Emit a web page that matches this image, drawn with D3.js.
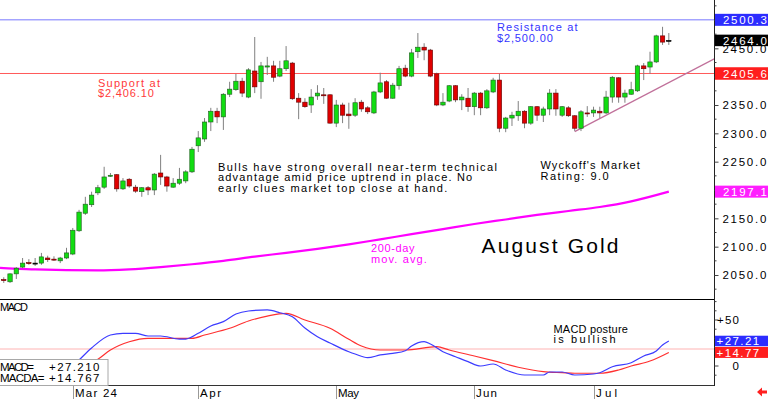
<!DOCTYPE html>
<html><head><meta charset="utf-8">
<script src="https://cdn.jsdelivr.net/npm/d3@7"></script>
<style>
body{margin:0;background:#fff}
svg{display:block}
text{font-family:"Liberation Sans",Arial,sans-serif}
</style>
</head><body>
<svg id="c" width="768" height="399"></svg>
<script>
// ---------- DATA ----------
const opens = [2042,2038,2052,2064,2072,2071,2071,2080,2078,2075,2080,2087,2128,2159,2174,2195,2205,2225,2227,2202,
 2219,2205,2197,2204,2200,2230,2223,2205,2212,2216,2232,2278,2290,2320,2339,2329,2369,2377,2392,2364,
 2410,2391,2417,2419,2401,2414,2424,2362,2355,2350,2366,2368,2368,2318,2350,2334,2332,2355,2345,2336,
 2373,2391,2362,2384,2415,2401,2444,2452,2447,2405,2350,2357,2384,2359,2362,2347,2371,2345,2373,2394,
 2309,2327,2331,2339,2318,2347,2332,2343,2371,2332,2345,2331,2309,2336,2336,2339,2336,2364,2398,2364,
 2369,2375,2419,2417,2426,2472,2464];
const highs = [2046,2053,2064,2080,2078,2080,2089,2084,2083,2082,2098,2133,2165,2188,2197,2209,2241,2230,2228,2221,
 2221,2209,2205,2207,2230,2262,2225,2221,2239,2235,2276,2304,2327,2345,2345,2371,2391,2405,2398,2415,
 2470,2426,2435,2428,2428,2454,2426,2371,2362,2378,2385,2380,2369,2359,2354,2354,2362,2359,2348,2375,
 2407,2394,2389,2419,2421,2449,2477,2459,2449,2407,2371,2385,2385,2369,2380,2373,2373,2378,2398,2405,
 2329,2338,2357,2341,2348,2348,2347,2378,2378,2348,2348,2332,2341,2348,2347,2347,2375,2401,2399,2377,
 2391,2421,2424,2444,2474,2488,2477];
const lows = [2036,2036,2043,2062,2068,2066,2068,2073,2075,2071,2078,2085,2126,2156,2170,2191,2202,2223,2197,2200,
 2204,2195,2188,2191,2191,2209,2197,2204,2209,2212,2230,2267,2285,2304,2318,2306,2364,2375,2364,2362,
 2371,2361,2403,2391,2399,2410,2359,2325,2345,2336,2359,2352,2317,2311,2318,2308,2329,2338,2334,2334,
 2371,2361,2361,2377,2399,2399,2433,2429,2399,2348,2348,2355,2355,2341,2338,2332,2332,2343,2371,2302,
 2302,2313,2322,2309,2315,2322,2320,2332,2331,2329,2329,2304,2304,2329,2329,2327,2334,2354,2354,2354,
 2368,2373,2394,2405,2424,2456,2456];
const closes = [2040,2052,2062,2071,2070,2071,2082,2077,2077,2080,2089,2129,2161,2175,2191,2204,2223,2226,2202,2216,
 2207,2198,2204,2200,2228,2223,2207,2212,2219,2232,2272,2292,2320,2339,2329,2369,2378,2392,2371,2412,
 2382,2419,2419,2399,2414,2428,2361,2355,2347,2364,2371,2367,2318,2350,2332,2331,2354,2343,2338,2373,
 2389,2362,2385,2414,2401,2442,2452,2447,2401,2350,2355,2384,2359,2364,2347,2371,2345,2375,2394,2309,
 2327,2332,2339,2318,2347,2332,2343,2371,2343,2347,2331,2309,2338,2335,2341,2336,2364,2399,2364,2371,
 2377,2419,2414,2426,2472,2461,2464];

// 200-day moving average (candle index, value)
const maIdx  = [-0.6,0,5,10,15,20,25,30,35,40,45,50,55,60,65,70,75,80,85,90,95,100,106];
const maVals = [2062.5,2062,2060,2058.5,2058,2060,2064,2069,2075,2082.5,2089,2096,2104,2113,2122,2131,2140,2148,2156,2163,2170,2180,2197.1];

// MACD (blue) and MACDA (red)
const macdIdx  = [11,12,14,17,19,21,23,25,28,29,31,33,35,37,39,42,44,46,48,50,52,55,56,58,60,62,64,65,67,68,70,72,74,76,78,80,83,86,87,89,91,94,95,97,100,102,104,105,106];
const macdVals = [0,6.5,19.6,33.7,35.5,35.5,32.6,32.6,29.3,29.3,35.5,43.5,48.2,56.5,59.8,60.9,57.9,53.6,41.3,31.8,25,15.5,13,9,12,13.8,16.6,21.7,26.4,23.9,15.5,10.1,4.7,0,2.2,-4.3,-9.8,-9.8,-6.5,-6.5,-9.8,-8.7,-7.3,-0.8,3.6,10.9,16.3,22.8,27.21];
const macdaIdx  = [13,15,17,20,23,27,30,32,36,39,42,45,48,52,55,57,60,64,69,71,75,78,82,86,89,91,95,98,100,103,106];
const macdaVals = [0,7.3,17.4,26.4,30.1,30.1,30.1,33.7,41,48.9,54.3,57.3,50,41,29,21.7,17.4,17.4,21,17.4,10.9,5.8,-1.4,-6.2,-7.3,-7.9,-7.9,-4.3,0,5.4,14.77];
const macdNow = 27.210, macdaNow = 14.767;
const macdRefLevel = 18.5;

// levels
const resistance = 2500.3, support = 2405.6, lastPrice = 2464.0, maLast = 2197.1;
const trendIdx = [91, 113.4];
const trendVals = [2303, 2432.4];

// ticks / labels
const priceTicks = [2050,2100,2150,2200,2250,2300,2350,2400,2450,2500];
const macdTicks = [0,50];
const monthLabels = ["Mar 24","Apr","May","Jun","Jul"];
const monthIdx = [11,31,53,75,94];

// ---------- CHART ----------
const svg = d3.select("#c");
const W = 768, plotR = 714, mainB = 299, lowT = 300, lowB = 385;

const x = d3.scaleLinear().domain([-0.6, 113.2]).range([0, plotR]);
const y = d3.scaleLinear().domain([2050, 2500]).range([275, 20]);
const ym = d3.scaleLinear().domain([0, 50]).range([366, 320]);

function mono(sel, adv){
  sel.each(function(){
    const t = d3.select(this);
    t.attr("textLength", t.text().length * adv).attr("lengthAdjust", "spacing");
  });
}

const defs = svg.append("defs");
defs.append("clipPath").attr("id","cm").append("rect").attr("x",0).attr("y",0).attr("width",plotR).attr("height",mainB);
defs.append("clipPath").attr("id","cl").append("rect").attr("x",0).attr("y",lowT).attr("width",plotR).attr("height",lowB-lowT);

svg.append("rect").attr("width",W).attr("height",399).attr("fill","#fff");

const main = svg.append("g").attr("clip-path","url(#cm)");

// level lines
main.append("line").attr("x1",0).attr("x2",plotR).attr("y1",y(resistance)).attr("y2",y(resistance))
  .attr("stroke","#7878ff").attr("stroke-width",1);
main.append("line").attr("x1",0).attr("x2",plotR).attr("y1",y(support)).attr("y2",y(support))
  .attr("stroke","#ff5a5a").attr("stroke-width",1);

// trendline
main.append("path").datum(trendIdx.map((d,i)=>[d,trendVals[i]]))
  .attr("d", d3.line().x(d=>x(d[0])).y(d=>y(d[1])))
  .attr("stroke","#c0709a").attr("stroke-width",1.2).attr("fill","none");

// moving average
main.append("path").datum(maIdx.map((d,i)=>[d,maVals[i]]))
  .attr("d", d3.line().curve(d3.curveMonotoneX).x(d=>x(d[0])).y(d=>y(d[1])))
  .attr("stroke","#ff00ff").attr("stroke-width",2.2).attr("fill","none");

// candles
const bw = 4.4;
const cg = main.append("g");
opens.forEach((o,i)=>{
  const c = closes[i], h = highs[i], l = lows[i];
  const up = c > o, down = c < o;
  const fill = up ? "#11dd11" : down ? "#e00000" : "#000";
  const stroke = up ? "#205a20" : down ? "#600000" : "#000";
  cg.append("line").attr("x1",x(i)).attr("x2",x(i)).attr("y1",y(h)).attr("y2",y(l))
    .attr("stroke","#808080").attr("stroke-width",1);
  const top = y(Math.max(o,c)), bot = y(Math.min(o,c));
  cg.append("rect").attr("x",x(i)-bw/2).attr("y",top).attr("width",bw).attr("height",Math.max(1,bot-top))
    .attr("fill",fill).attr("stroke",stroke).attr("stroke-width",0.6);
});

// annotations
function textLines(lines, x0, y0, dy, color, size, adv){
  lines.forEach((s,k)=>{
    svg.append("text").attr("x",x0).attr("y",y0+k*dy).attr("fill",color)
      .attr("font-size",size).text(s).call(mono, adv);
  });
}
textLines(["Resistance at","$2,500.00"], 497, 31, 10.5, "#3434ff", 11, 6.2);
textLines(["Support at","$2,406.10"], 98, 86.5, 10.5, "#ff3a3a", 11, 6.2);
textLines(["Bulls have strong overall near-term technical","advantage amid price uptrend in place. No","early clues market top close at hand."], 218, 170.5, 10.8, "#000", 11, 6.2);
textLines(["Wyckoff's Market","Rating: 9.0"], 540.5, 169, 10.6, "#000", 11, 6.2);
textLines(["200-day","mov. avg."], 371, 252, 10.5, "#ff00ff", 11, 6.2);
textLines(["August Gold"], 481.5, 252.5, 0, "#000", 21, 12.45);

// main/lower separators
svg.append("line").attr("x1",0).attr("x2",plotR).attr("y1",299.5).attr("y2",299.5).attr("stroke","#000").attr("stroke-width",1.2);
svg.append("line").attr("x1",0).attr("x2",plotR).attr("y1",385.5).attr("y2",385.5).attr("stroke","#333").attr("stroke-width",1);
svg.append("line").attr("x1",plotR+0.5).attr("x2",plotR+0.5).attr("y1",0).attr("y2",386).attr("stroke","#222").attr("stroke-width",1);

// value boxes on the price axis (tick labels hidden under them are dropped)
const boxes = [
  {v:resistance, h:12,   bg:"#2c2cff"},
  {v:lastPrice,  h:11.5, bg:"#000"},
  {v:support,    h:12.5, bg:"#ff1e1e"},
  {v:maLast,     h:12,   bg:"#ff1eff"}
];
const covered = v => boxes.some(b => Math.abs(y(v)-y(b.v)) < 7);

// price axis
const minorP = d3.range(2025, 2526, 25).filter(v=>priceTicks.indexOf(v)<0);
svg.append("g").selectAll("line").data(minorP).join("line")
  .attr("x1",plotR+0.5).attr("x2",plotR+2.5).attr("y1",d=>y(d)).attr("y2",d=>y(d)).attr("stroke","#444");
const pa = svg.append("g").attr("transform",`translate(${plotR+0.5},0)`)
  .call(d3.axisRight(y).tickValues(priceTicks).tickFormat(d=>covered(d)?"":d3.format(".1f")(d)).tickSize(4).tickPadding(4));
pa.select(".domain").remove();
pa.selectAll("line").attr("stroke","#444");
pa.selectAll("text").attr("font-size",11.5).attr("fill","#000").attr("font-family","Liberation Sans, Arial, sans-serif")
  .filter(function(){return this.textContent.length>0;}).call(mono,7.3);

boxes.forEach(b=>{
  const yc = y(b.v);
  svg.append("rect").attr("x",plotR+1).attr("y",yc-b.h/2).attr("width",W-plotR).attr("height",b.h).attr("fill",b.bg);
  svg.append("text").attr("x",723).attr("y",yc).attr("dy","0.36em").attr("fill","#fff").attr("font-size",11.5)
    .text(d3.format(".1f")(b.v)).call(mono,7.3);
});

// ---------- MACD panel ----------
const low = svg.append("g").attr("clip-path","url(#cl)");
low.append("line").attr("x1",0).attr("x2",plotR).attr("y1",ym(macdRefLevel)).attr("y2",ym(macdRefLevel))
  .attr("stroke","#ffcccc").attr("stroke-width",1.5);
low.append("path").datum(macdaIdx.map((d,i)=>[d,macdaVals[i]]))
  .attr("d", d3.line().curve(d3.curveMonotoneX).x(d=>x(d[0])).y(d=>ym(d[1])))
  .attr("stroke","#ff3030").attr("stroke-width",1.2).attr("fill","none");
low.append("path").datum(macdIdx.map((d,i)=>[d,macdVals[i]]))
  .attr("d", d3.line().curve(d3.curveMonotoneX).x(d=>x(d[0])).y(d=>ym(d[1])))
  .attr("stroke","#3c3cff").attr("stroke-width",1.2).attr("fill","none");

svg.append("text").attr("x",0).attr("y",310.5).attr("font-size",11).attr("fill","#000").text("MACD").call(mono,7);
textLines(["MACD posture","is bullish"], 553.5, 332.5, 10.5, "#000", 11, 6.2);

// macd value box
svg.append("rect").attr("x",-1).attr("y",359.5).attr("width",109).attr("height",26).attr("fill","#fff").attr("stroke","#a8a8a8");
const fmt = d3.format("+.3f");
[["MACD=",fmt(macdNow),370.5,6.8],["MACDA=",fmt(macdaNow),381.5,7.4]].forEach(r=>{
  svg.append("text").attr("x",0).attr("y",r[2]).attr("font-size",11.5).text(r[0]).call(mono,r[3]);
  svg.append("text").attr("x",49).attr("y",r[2]).attr("font-size",11.5).text(r[1]).call(mono,7.2);
});

// macd axis
svg.append("g").selectAll("line").data(d3.range(-10,71,10)).join("line")
  .attr("x1",plotR+0.5).attr("x2",d=>plotR+(d%50===0?4.5:2.5)).attr("y1",d=>ym(d)).attr("y2",d=>ym(d)).attr("stroke","#444");
svg.append("g").selectAll("text").data(macdTicks).join("text")
  .attr("x",739).attr("y",d=>ym(d)).attr("dy","0.36em").attr("text-anchor","end").attr("font-size",11.5)
  .text(d=>d>0?"+"+d:String(d)).call(mono,7.3);
function lowBox(v, bg, h){
  svg.append("rect").attr("x",plotR+1).attr("y",ym(v)-h/2).attr("width",W-plotR).attr("height",h).attr("fill",bg);
  svg.append("text").attr("x",716.5).attr("y",ym(v)).attr("dy","0.36em").attr("fill","#fff").attr("font-size",11.5)
    .text(d3.format("+.2f")(v)).call(mono,7.1);
}
lowBox(macdNow, "#2c2cff", 10.5);
lowBox(macdaNow, "#ff1e1e", 11);

// date axis
monthIdx.forEach((d,k)=>{
  const xx = Math.round(x(d))+0.5;
  svg.append("line").attr("x1",xx).attr("x2",xx).attr("y1",386).attr("y2",399).attr("stroke","#999").attr("stroke-width",1);
  svg.append("text").attr("x",xx+1.5).attr("y",396.5).attr("font-size",11.5).attr("fill","#000").text(monthLabels[k]).call(mono,7);
});

// red arrow bottom right
svg.append("path").attr("d","M757,392 L762,387.5 L762,390.5 L767,390.5 L767,393.5 L762,393.5 L762,396.5 Z").attr("fill","#ff2020");
</script>
</body></html>
